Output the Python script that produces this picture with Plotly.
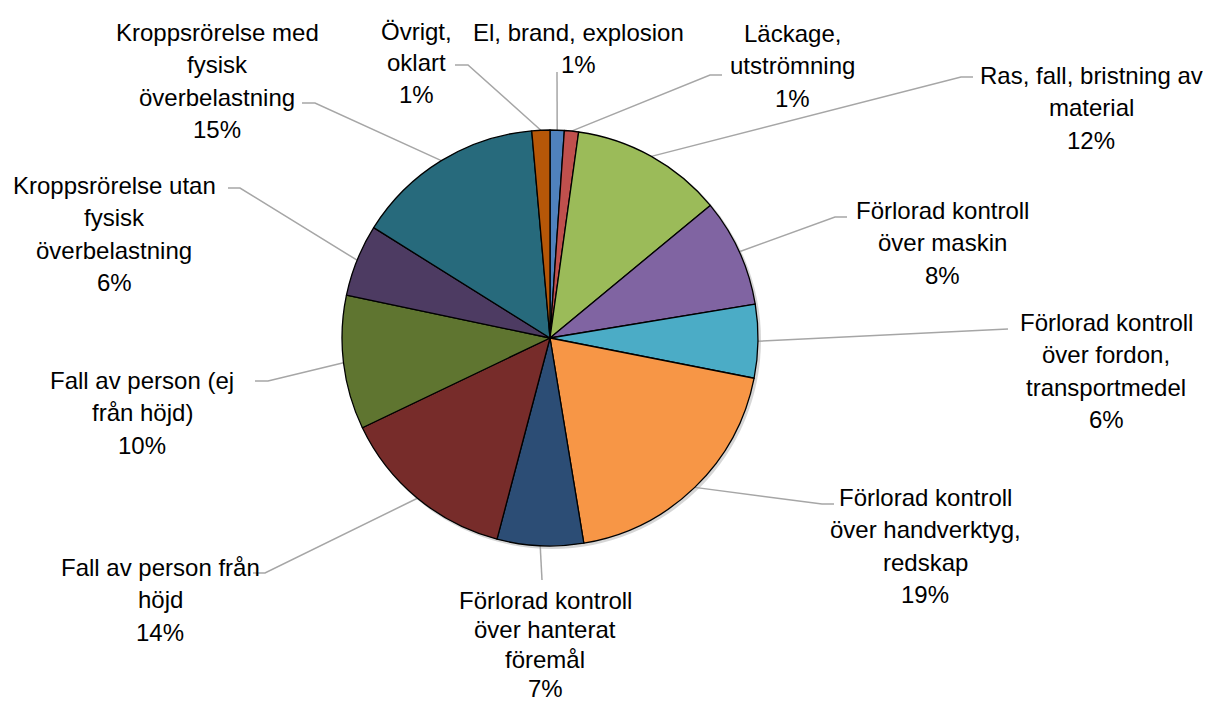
import math
import plotly.graph_objects as go

# ---------------- data ----------------
categories = [
    "El, brand, explosion",
    "Läckage, utströmning",
    "Ras, fall, bristning av material",
    "Förlorad kontroll över maskin",
    "Förlorad kontroll över fordon, transportmedel",
    "Förlorad kontroll över handverktyg, redskap",
    "Förlorad kontroll över hanterat föremål",
    "Fall av person från höjd",
    "Fall av person (ej från höjd)",
    "Kroppsrörelse utan fysisk överbelastning",
    "Kroppsrörelse med fysisk överbelastning",
    "Övrigt, oklart",
]
shares = [1.1, 1.1, 11.8, 8.4, 5.7, 19.3, 6.7, 13.8, 10.4, 5.6, 14.7, 1.4]
label_lines = [
    ["El, brand, explosion"],
    ["Läckage,", "utströmning"],
    ["Ras, fall, bristning av", "material"],
    ["Förlorad kontroll", "över maskin"],
    ["Förlorad kontroll", "över fordon,", "transportmedel"],
    ["Förlorad kontroll", "över handverktyg,", "redskap"],
    ["Förlorad kontroll", "över hanterat", "föremål"],
    ["Fall av person från", "höjd"],
    ["Fall av person (ej", "från höjd)"],
    ["Kroppsrörelse utan", "fysisk", "överbelastning"],
    ["Kroppsrörelse med", "fysisk", "överbelastning"],
    ["Övrigt,", "oklart"],
]

# ---------------- style / layout ----------------
colors = ["#4F81BD", "#C0504D", "#9BBB59", "#8064A2", "#4BACC6", "#F79646",
          "#2C4D75", "#772C2A", "#5F7530", "#4D3B62", "#276A7C", "#B65708"]
WIN_W, WIN_H = 1211, 715
OFF = 8                      # page body margin
W, H = WIN_W - 2 * OFF, WIN_H - 2 * OFF
CX, CY, R = 550, 338, 208    # in window pixels
FONT = "Liberation Sans"
FSIZE = 24
# label block: centre x, first line centre y, line spacing (window pixels)
label_pos = [(578, 32, 32.6), (792, 33, 32.6), (1091, 75, 32.6), (942, 210, 32.6),
             (1106, 322, 32.6), (925, 497, 32.6), (545, 600, 29.5), (160, 567, 32.6),
             (142, 380, 32.6), (114, 185, 32.6), (217, 32, 32.6), (416, 31, 31.5)]
# leader: elbow point and end x (end y == elbow y)
leader = [(557, 72, 557), (710, 75, 722), (961, 77, 973), (835, 217, 847),
          (995, 329, 1008), (822, 504, 834), (542, 580, 542), (265, 573, 253),
          (268, 381, 255), (240, 188, 228), (315, 103, 302), (468, 65, 455)]

total = sum(shares)
pcts = [f"{round(v / total * 100)}%" for v in shares]

fig = go.Figure()

# soft shadow behind pie
fig.add_shape(type="circle", xref="x", yref="y",
              x0=CX - R + 1, x1=CX + R + 3, y0=CY - R + 1, y1=CY + R + 3,
              line=dict(width=0), fillcolor="rgba(0,0,0,0.16)", layer="below")

fig.add_trace(go.Pie(
    labels=categories, values=shares, sort=False, direction="clockwise", rotation=0,
    marker=dict(colors=colors, line=dict(color="#000000", width=1.3)),
    textinfo="none", showlegend=False,
    domain=dict(x=[(CX - R - OFF) / W, (CX + R - OFF) / W],
                y=[(WIN_H - OFF - CY - R) / H, (WIN_H - OFF - CY + R) / H]),
))

# leader lines computed from slice mid-angles
lx, ly = [], []
cum = 0.0
for i, v in enumerate(shares):
    mid = (cum + v / 2) / total * 2 * math.pi
    cum += v
    sx = CX + R * math.sin(mid)
    sy = CY - R * math.cos(mid)
    ex, ey, endx = leader[i]
    lx += [sx, ex, endx, None]
    ly += [sy, ey, ey, None]
fig.add_trace(go.Scatter(x=lx, y=ly, mode="lines", line=dict(color="#A6A6A6", width=1.5),
                         hoverinfo="skip", showlegend=False))

annotations = []
for i, lines in enumerate(label_lines):
    cx, y0, lh = label_pos[i]
    for j, t in enumerate(lines + [pcts[i]]):
        annotations.append(dict(x=cx, y=y0 + j * lh, xref="x", yref="y", text=t,
                                showarrow=False, xanchor="center", yanchor="middle",
                                font=dict(family=FONT, size=FSIZE, color="#000000")))

fig.update_layout(
    width=W, height=H, margin=dict(l=0, r=0, t=0, b=0),
    paper_bgcolor="white", plot_bgcolor="rgba(0,0,0,0)",
    xaxis=dict(range=[OFF, OFF + W], visible=False, domain=[0, 1], fixedrange=True),
    yaxis=dict(range=[OFF + H, OFF], visible=False, domain=[0, 1], fixedrange=True),
    annotations=annotations,
)

fig.write_html("out.html")
